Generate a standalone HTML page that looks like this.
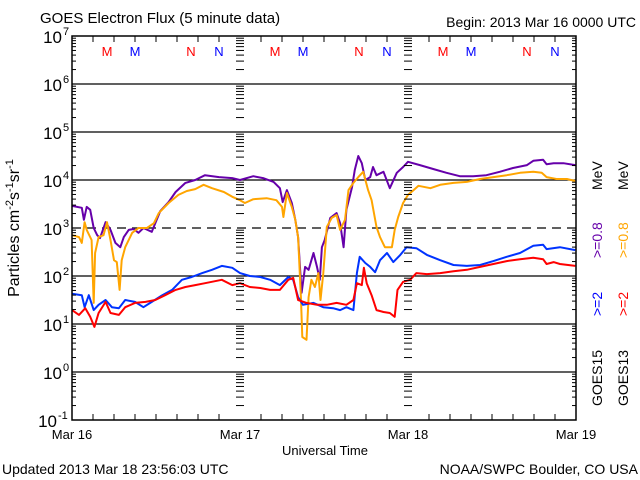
<!DOCTYPE html>
<html><head><meta charset="utf-8"><style>
html,body{margin:0;padding:0;background:#fff}
svg{display:block;font-family:"Liberation Sans",sans-serif}
</style></head><body>
<svg id="chart" width="640" height="480" viewBox="0 0 640 480" xmlns="http://www.w3.org/2000/svg">
<rect width="640" height="480" fill="#fff"/>
<text x="40" y="23" font-size="15">GOES Electron Flux (5 minute data)</text>
<text x="636" y="27" font-size="14" text-anchor="end">Begin: 2013 Mar 16 0000 UTC</text>
<g id="grid"></g>
<g id="series"></g>
<g id="axes"></g>
<text x="325" y="455" font-size="13" text-anchor="middle">Universal Time</text>
<text x="2" y="474" font-size="14">Updated 2013 Mar 18 23:56:03 UTC</text>
<text x="638" y="474" font-size="14" text-anchor="end">NOAA/SWPC Boulder, CO USA</text>
<text transform="translate(19,228) rotate(-90)" font-size="16" text-anchor="middle">Particles cm<tspan font-size="11" dy="-6">-2</tspan><tspan dy="6">s</tspan><tspan font-size="11" dy="-6">-1</tspan><tspan dy="6">sr</tspan><tspan font-size="11" dy="-6">-1</tspan></text>
<g font-size="14">
<text transform="translate(602,406) rotate(-90)">GOES15</text>
<text transform="translate(602,316) rotate(-90)" fill="#0000ff">&gt;=2</text>
<text transform="translate(602,258) rotate(-90)" fill="#6600aa">&gt;=0.8</text>
<text transform="translate(602,190) rotate(-90)">MeV</text>
<text transform="translate(628,406) rotate(-90)">GOES13</text>
<text transform="translate(628,316) rotate(-90)" fill="#ff0000">&gt;=2</text>
<text transform="translate(628,258) rotate(-90)" fill="#ffa500">&gt;=0.8</text>
<text transform="translate(628,190) rotate(-90)">MeV</text>
</g>
</svg>
<script>
// ---- data (hours since 2013-03-16 00:00 UTC, log10 flux) ----
const purpleHours=[0,1.4,1.7,2.1,2.6,3.1,3.6,4,4.8,5.5,6.2,6.9,7.4,8.1,8.8,9.5,10.2,11.4,12.1,12.6,13.8,14.8,16.2,17.6,19,21,22.9,24,25.9,27.3,28.8,29.7,30.1,30.7,31.4,31.9,32.3,32.8,33.3,33.8,34.5,35,35.4,35.7,36.1,36.9,37.8,38.3,38.8,39.2,40,40.4,40.9,41.4,41.9,42.6,43,43.5,44.5,45.4,46.4,47.3,48,49.7,51.6,53.5,55.4,57.3,59.2,61.1,63,65,65.9,67.3,67.8,68.8,70.2,71.9];
const purpleLog=[3.46,3.42,3.17,3.44,3.38,3.0,2.85,2.79,3.12,2.96,2.69,2.6,2.81,2.96,2.98,2.9,3.0,2.92,3.17,3.35,3.54,3.75,3.94,4.0,4.1,4.06,4.04,4.0,4.08,4.04,3.96,3.83,3.54,3.79,3.52,3.17,2.81,1.65,2.19,2.13,2.48,2.19,1.92,2.6,2.75,3.21,3.31,3.1,2.6,3.38,3.85,4.21,4.5,4.35,4.0,4.06,4.27,4.1,4.17,3.83,4.15,4.27,4.38,4.31,4.23,4.15,4.08,4.08,4.1,4.17,4.25,4.31,4.4,4.42,4.33,4.35,4.35,4.31];
const orangeHours=[0,1,1.4,1.8,2.1,2.8,3.1,3.3,3.8,4.5,5,5.5,6,6.4,6.8,7.1,7.6,8.6,9.5,10.7,11.7,12.4,13.8,15.2,16.4,17.6,18.8,20,21.7,22.9,24,24.7,25.9,27.8,29.2,30,30.2,30.7,31.4,31.9,32.3,32.7,32.9,33.5,33.8,34.2,34.7,35.2,35.5,35.9,36.4,37.1,37.8,38.3,39,39.5,40.2,40.9,41.6,42.3,42.8,43.5,44,44.7,45.7,46.1,46.6,47.3,48,48.8,49.5,51.2,52.6,54.5,56.4,58.3,60.2,62.1,64,65.9,67.1,67.8,69.2,70.7,71.9];
const orangeLog=[2.85,2.81,2.69,3.12,2.96,2.75,1.44,2.48,2.81,2.85,3.12,2.75,2.33,2.29,1.71,2.33,2.6,2.9,3.0,3.0,3.1,3.31,3.52,3.69,3.77,3.81,3.9,3.83,3.75,3.65,3.58,3.52,3.6,3.62,3.58,3.44,3.23,3.73,3.44,3.17,2.81,1.56,0.73,0.67,1.56,1.92,1.77,2.06,1.5,2.06,3.02,3.21,3.27,2.96,3.17,3.79,3.94,4.06,4.17,3.79,3.58,3.02,2.81,2.6,2.6,2.96,3.23,3.52,3.69,3.79,3.88,3.83,3.9,3.94,3.96,4.02,4.06,4.1,4.15,4.17,4.15,4.06,4.02,4.02,3.98];
const blueHours=[0,1.4,1.8,2.4,3.1,3.8,4.8,5.7,6.7,7.6,9,10.2,11.4,12.9,14.3,15.7,17.1,18.6,20,21.4,22.9,24,25.4,26.9,28.3,29.7,30.9,31.6,32.3,33,34.5,35.9,37.3,38.3,39.2,40.2,40.7,41.1,41.9,42.6,43.3,44,45,45.9,46.9,47.8,49.2,50.7,52.6,54.5,56.4,58.3,60.2,62.1,64,65.9,67.3,67.8,69.7,71.9];
const blueLog=[1.63,1.6,1.35,1.6,1.29,1.4,1.5,1.35,1.33,1.5,1.46,1.35,1.46,1.6,1.71,1.92,1.98,2.06,2.13,2.21,2.17,2.06,2.0,1.98,1.92,1.81,1.98,1.92,1.56,1.4,1.44,1.35,1.33,1.29,1.35,1.29,2.06,2.4,2.27,2.19,2.08,2.33,2.48,2.29,2.44,2.6,2.58,2.44,2.33,2.23,2.21,2.23,2.31,2.4,2.48,2.63,2.65,2.56,2.6,2.54];
const redHours=[0,1,1.9,2.6,3.2,3.8,4.8,5.5,6.7,7.6,9,10.5,11.9,13.3,14.8,16.2,17.6,19,21.4,22.9,24,25.4,26.9,28.3,29.7,30.9,31.6,32.3,33.5,35,36.4,37.8,39.2,40.2,40.7,41.4,41.7,42.1,42.8,43.5,44.5,45.4,46.1,46.5,47.3,48.3,49.2,50.7,52.6,54.5,56.4,58.3,60.2,62.1,64,65.9,67.3,67.8,68.8,69.7,71.9];
const redLog=[1.29,1.19,1.33,1.15,0.94,1.23,1.46,1.23,1.19,1.35,1.44,1.46,1.5,1.6,1.71,1.77,1.81,1.85,1.92,1.81,1.85,1.77,1.75,1.71,1.71,1.92,1.96,1.5,1.44,1.4,1.4,1.44,1.4,1.5,1.85,1.81,2.17,1.85,1.6,1.29,1.25,1.23,1.15,1.71,1.88,1.92,2.06,2.04,2.06,2.1,2.13,2.19,2.25,2.31,2.35,2.38,2.35,2.25,2.29,2.25,2.21];
const dayLabels=["Mar 16","Mar 17","Mar 18","Mar 19"];
const decadeExps=[7,6,5,4,3,2,1,0,-1];
const markerLetters=["M","M","N","N"];
const markerHours=[5,9,17,21];

// ---- axes ----
const L=72,R=576,T=36,B=420,HRS=72;
const xs=h=>L+(R-L)*h/HRS;
const ys=lg=>T+(7-lg)*(B-T)/8;
const NS="http://www.w3.org/2000/svg";
function mk(tag,attrs,parent){const e=document.createElementNS(NS,tag);for(const k in attrs)e.setAttribute(k,attrs[k]);parent.appendChild(e);return e;}
const grid=document.getElementById('grid'),axes=document.getElementById('axes'),series=document.getElementById('series');

decadeExps.forEach(k=>{
  const y=ys(k);
  if(k<7&&k>-1){
    const ln=mk('line',{x1:L,x2:R,y1:y,y2:y,stroke:'#000','stroke-width':1.3},grid);
    
    
    if(k===3)ln.setAttribute('stroke-dasharray','9,6');
  }
  const t=mk('text',{x:k<0?57:62,y:y+7,'font-size':17,'text-anchor':'end'},axes);
  
  
  t.textContent='10';
  const s=mk('text',{x:k<0?58:63,y:y-1,'font-size':11},axes);
  
  
  s.textContent=String(k);
  if(k>-1){
    for(let m=2;m<=9;m++){
      const yy=ys(k-1+Math.log10(m));
      [[L,L+4],[R-4,R],[xs(24)-4,xs(24)+4],[xs(48)-4,xs(48)+4]].forEach(p=>{
        const tk=mk('line',{x1:p[0],x2:p[1],y1:yy,y2:yy,stroke:'#000','stroke-width':1},axes);
        
        
      });
    }
  }
});
for(let h=3;h<HRS;h+=3){
  if(h%24===0)continue;
  const x=xs(h);
  const a=mk('line',{x1:x,x2:x,y1:B,y2:B-6,stroke:'#000'},axes);
  
  
  const b=mk('line',{x1:x,x2:x,y1:T,y2:T+6,stroke:'#000'},axes);
  
  
}
dayLabels.forEach((d,i)=>{
  const t=mk('text',{x:xs(i*24),y:439,'font-size':13,'text-anchor':'middle'},axes);
  
  
  t.textContent=d;
});
for(let day=0;day<3;day++){
  markerLetters.forEach((m,i)=>{
    const t=mk('text',{x:xs(day*24+markerHours[i]),y:56,'font-size':13,'text-anchor':'middle',fill:i%2===0?'#ff0000':'#0000ff'},axes);
    
    
    t.textContent=m;
  });
}
const frame=mk('rect',{x:L,y:T,width:R-L,height:B-T,fill:'none',stroke:'#000','stroke-width':1.5},axes);



function drawSeries(hours,logs,color,name,w){
  const pts=hours.map((h,i)=>xs(h).toFixed(1)+','+ys(logs[i]).toFixed(1)).join(' ');
  const pl=mk('polyline',{points:pts,fill:'none',stroke:color,'stroke-width':w,'stroke-linejoin':'round'},series);
  
  
}
drawSeries(purpleHours,purpleLog,'#6600aa','goes15-ge08-line',2);
drawSeries(orangeHours,orangeLog,'#ffa500','goes13-ge08-line',2);
drawSeries(blueHours,blueLog,'#0033ff','goes15-ge2-line',2);
drawSeries(redHours,redLog,'#ff0000','goes13-ge2-line',2);
</script>
</body></html>
